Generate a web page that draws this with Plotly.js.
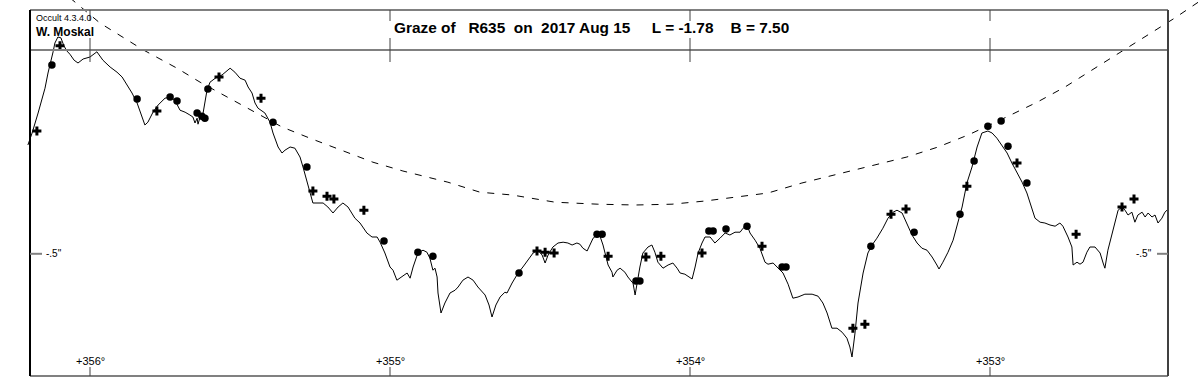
<!DOCTYPE html>
<html>
<head>
<meta charset="utf-8">
<script src="https://cdn.plot.ly/plotly-3.0.1.min.js"></script>
<style>html,body{margin:0;padding:0;background:#fff;}#chart{width:1198px;height:385px;}</style>
</head>
<body>
<div id="chart"></div>
<script>
// ---- Data (watts angle in degrees, height in arcsec) ----
const profileAngle = [356.207,356.193,356.173,356.157,356.150,356.140,356.133,356.123,356.117,356.107,356.097,356.087,356.077,356.067,356.053,356.040,356.023,356.000,355.977,355.957,355.933,355.910,355.893,355.877,355.860,355.843,355.827,355.817,355.807,355.790,355.773,355.750,355.733,355.717,355.700,355.683,355.667,355.657,355.650,355.643,355.640,355.633,355.623,355.610,355.600,355.577,355.560,355.533,355.517,355.500,355.483,355.473,355.460,355.450,355.440,355.417,355.400,355.390,355.373,355.360,355.350,355.333,355.317,355.300,355.290,355.277,355.267,355.257,355.240,355.223,355.207,355.190,355.173,355.157,355.140,355.127,355.117,355.100,355.077,355.060,355.043,355.033,355.017,355.000,354.990,354.977,354.960,354.943,354.933,354.923,354.907,354.890,354.877,354.867,354.857,354.850,354.843,354.840,354.830,354.817,354.800,354.783,354.773,354.757,354.740,354.723,354.707,354.683,354.670,354.660,354.647,354.633,354.617,354.610,354.593,354.583,354.573,354.557,354.540,354.523,354.507,354.493,354.483,354.473,354.457,354.440,354.423,354.407,354.393,354.377,354.367,354.357,354.343,354.333,354.323,354.310,354.300,354.290,354.283,354.273,354.260,354.257,354.243,354.233,354.217,354.207,354.193,354.190,354.183,354.177,354.167,354.157,354.140,354.127,354.117,354.107,354.090,354.073,354.057,354.043,354.033,354.017,354.000,353.993,353.983,353.973,353.960,353.950,353.933,353.917,353.900,353.883,353.867,353.850,353.833,353.823,353.810,353.800,353.783,353.767,353.750,353.740,353.723,353.707,353.690,353.673,353.657,353.640,353.617,353.593,353.573,353.557,353.543,353.527,353.510,353.493,353.477,353.467,353.460,353.450,353.440,353.423,353.407,353.393,353.377,353.357,353.340,353.323,353.310,353.293,353.277,353.260,353.243,353.227,353.210,353.193,353.177,353.170,353.157,353.140,353.123,353.107,353.093,353.077,353.060,353.043,353.027,353.007,352.993,352.977,352.960,352.943,352.927,352.910,352.893,352.877,352.860,352.850,352.833,352.817,352.800,352.783,352.767,352.757,352.740,352.727,352.723,352.710,352.700,352.690,352.677,352.667,352.650,352.633,352.623,352.617,352.607,352.593,352.583,352.573,352.560,352.550,352.540,352.527,352.517,352.507,352.493,352.483,352.473,352.460,352.450,352.440,352.427,352.417,352.410];
const profileHeight = [-0.228,-0.198,-0.148,-0.108,-0.086,-0.048,-0.028,0.005,0.027,0.042,0.040,0.020,0.007,-0.001,-0.016,-0.023,-0.013,-0.008,0.005,-0.016,-0.033,-0.046,-0.058,-0.078,-0.098,-0.123,-0.158,-0.178,-0.171,-0.146,-0.128,-0.111,-0.108,-0.116,-0.141,-0.146,-0.153,-0.158,-0.173,-0.161,-0.176,-0.158,-0.148,-0.091,-0.071,-0.058,-0.053,-0.036,-0.046,-0.061,-0.066,-0.083,-0.098,-0.123,-0.136,-0.148,-0.171,-0.198,-0.233,-0.248,-0.241,-0.233,-0.236,-0.258,-0.283,-0.316,-0.348,-0.373,-0.373,-0.373,-0.383,-0.398,-0.383,-0.373,-0.383,-0.398,-0.411,-0.423,-0.448,-0.458,-0.458,-0.471,-0.498,-0.533,-0.541,-0.566,-0.558,-0.548,-0.561,-0.533,-0.498,-0.491,-0.496,-0.511,-0.541,-0.536,-0.558,-0.598,-0.648,-0.623,-0.598,-0.591,-0.583,-0.566,-0.558,-0.566,-0.583,-0.603,-0.628,-0.658,-0.628,-0.608,-0.596,-0.598,-0.573,-0.561,-0.548,-0.533,-0.516,-0.498,-0.491,-0.503,-0.523,-0.503,-0.483,-0.473,-0.471,-0.473,-0.478,-0.473,-0.476,-0.486,-0.493,-0.478,-0.461,-0.453,-0.456,-0.478,-0.498,-0.528,-0.546,-0.558,-0.541,-0.536,-0.546,-0.558,-0.571,-0.573,-0.603,-0.573,-0.533,-0.498,-0.483,-0.478,-0.496,-0.521,-0.536,-0.528,-0.523,-0.536,-0.548,-0.551,-0.558,-0.563,-0.533,-0.498,-0.473,-0.458,-0.458,-0.473,-0.461,-0.448,-0.453,-0.446,-0.446,-0.436,-0.428,-0.448,-0.466,-0.486,-0.521,-0.526,-0.523,-0.536,-0.548,-0.576,-0.611,-0.608,-0.601,-0.601,-0.606,-0.623,-0.648,-0.686,-0.686,-0.696,-0.711,-0.733,-0.758,-0.698,-0.623,-0.548,-0.498,-0.478,-0.461,-0.436,-0.411,-0.396,-0.391,-0.398,-0.423,-0.453,-0.473,-0.486,-0.491,-0.508,-0.528,-0.538,-0.521,-0.496,-0.466,-0.423,-0.383,-0.323,-0.283,-0.233,-0.198,-0.193,-0.198,-0.211,-0.228,-0.248,-0.273,-0.296,-0.321,-0.348,-0.386,-0.411,-0.421,-0.423,-0.428,-0.431,-0.423,-0.431,-0.458,-0.483,-0.528,-0.521,-0.526,-0.521,-0.496,-0.483,-0.483,-0.498,-0.523,-0.536,-0.491,-0.448,-0.416,-0.391,-0.383,-0.391,-0.403,-0.396,-0.421,-0.403,-0.396,-0.408,-0.398,-0.408,-0.403,-0.423,-0.411,-0.396,-0.391];

const limitAngle = [356.067,355.967,355.823,355.710,355.633,355.493,355.360,355.260,355.160,355.057,354.957,354.807,354.700,354.593,354.450,354.307,354.183,354.060,353.950,353.840,353.740,353.627,353.490,353.377,353.277,353.173,353.073,352.967,352.843,352.750,352.660,352.567,352.473,352.383,352.300];
const limitHeight = [0.140,0.077,0.010,-0.036,-0.071,-0.128,-0.183,-0.213,-0.241,-0.271,-0.293,-0.321,-0.346,-0.353,-0.371,-0.376,-0.378,-0.376,-0.368,-0.358,-0.348,-0.323,-0.298,-0.278,-0.258,-0.233,-0.203,-0.166,-0.121,-0.083,-0.041,0.002,0.047,0.090,0.132];

const dotAngle = [356.127,355.843,355.733,355.710,355.643,355.627,355.617,355.607,355.390,355.277,355.020,354.907,354.857,354.570,354.310,354.293,354.180,354.167,353.937,353.923,353.880,353.810,353.693,353.680,353.397,353.253,353.100,353.053,353.007,352.963,352.940,352.877];
const dotHeight = [-0.028,-0.113,-0.108,-0.118,-0.148,-0.156,-0.161,-0.088,-0.171,-0.283,-0.468,-0.496,-0.506,-0.548,-0.451,-0.451,-0.568,-0.568,-0.443,-0.443,-0.438,-0.431,-0.533,-0.533,-0.481,-0.446,-0.401,-0.268,-0.181,-0.168,-0.231,-0.323];

const crossAngle = [356.177,356.100,355.777,355.570,355.430,355.257,355.210,355.187,355.087,354.510,354.483,354.453,354.273,354.147,354.097,353.960,353.760,353.457,353.417,353.330,353.280,353.077,352.910,352.713,352.560,352.520];
const crossHeight = [-0.193,0.020,-0.143,-0.058,-0.111,-0.343,-0.356,-0.363,-0.391,-0.493,-0.496,-0.498,-0.506,-0.508,-0.506,-0.498,-0.481,-0.686,-0.676,-0.401,-0.388,-0.331,-0.273,-0.451,-0.383,-0.363];

const xTickValues = [356, 355, 354, 353];
const xTickLabels = ['+356°', '+355°', '+354°', '+353°'];
const yTickValues = [-0.5];
const yTickLabels = ['-.5"'];

const titleText = 'Graze of\u00a0\u00a0\u00a0R635\u00a0\u00a0on\u00a0\u00a02017 Aug 15\u00a0\u00a0\u00a0\u00a0\u00a0L = -1.78\u00a0\u00a0\u00a0\u00a0B = 7.50';
const versionText = 'Occult 4.3.4.0';
const observerText = 'W. Moskal';

// ---- Layout helpers ----
const W = 1198, H = 385;
const X = p => p / W;
const Y = p => 1 - p / H;
const FONT = 'Arial, "Liberation Sans", sans-serif';

const traces = [
  {x: limitAngle, y: limitHeight, mode: 'lines', line: {color: '#000', width: 1, dash: '7px,8px'}, hoverinfo: 'skip'},
  {x: profileAngle, y: profileHeight, mode: 'lines', line: {color: '#000', width: 1}, hoverinfo: 'skip'},
  {x: dotAngle, y: dotHeight, mode: 'markers', marker: {symbol: 'circle', size: 7.5, color: '#000'}, hoverinfo: 'skip'},
  {x: crossAngle, y: crossHeight, mode: 'markers', marker: {symbol: 'cross', size: 7.5, color: '#000'}, hoverinfo: 'skip'}
];

const shapes = [];
const frameGray = '#808080';
// frame
shapes.push({type: 'line', xref: 'paper', yref: 'paper', x0: X(30), x1: X(1168), y0: Y(10), y1: Y(10), line: {color: frameGray, width: 2}});
shapes.push({type: 'line', xref: 'paper', yref: 'paper', x0: X(30), x1: X(1168), y0: Y(50), y1: Y(50), line: {color: frameGray, width: 2}});
shapes.push({type: 'line', xref: 'paper', yref: 'paper', x0: X(30), x1: X(1168), y0: Y(376), y1: Y(376), line: {color: frameGray, width: 2}});
shapes.push({type: 'line', xref: 'paper', yref: 'paper', x0: X(30), x1: X(30), y0: Y(10), y1: Y(376), line: {color: '#000', width: 2}});
shapes.push({type: 'line', xref: 'paper', yref: 'paper', x0: X(1168), x1: X(1168), y0: Y(10), y1: Y(376), line: {color: '#404040', width: 2}});

const annotations = [];
xTickValues.forEach((v, i) => {
  shapes.push({type: 'line', xref: 'x', yref: 'paper', x0: v, x1: v, y0: Y(10), y1: Y(21), line: {color: '#404040', width: 1}});
  shapes.push({type: 'line', xref: 'x', yref: 'paper', x0: v, x1: v, y0: Y(38), y1: Y(62), line: {color: '#404040', width: 1}});
  shapes.push({type: 'line', xref: 'x', yref: 'paper', x0: v, x1: v, y0: Y(367), y1: Y(376), line: {color: '#404040', width: 1}});
  annotations.push({xref: 'x', yref: 'paper', x: v, y: Y(361), text: xTickLabels[i], showarrow: false,
    xanchor: 'center', yanchor: 'middle', font: {family: FONT, size: 11, color: '#000'}});
});
yTickValues.forEach((v, i) => {
  shapes.push({type: 'line', xref: 'paper', yref: 'y', x0: X(30), x1: X(42), y0: v, y1: v, line: {color: frameGray, width: 2}});
  shapes.push({type: 'line', xref: 'paper', yref: 'y', x0: X(1157), x1: X(1168), y0: v, y1: v, line: {color: frameGray, width: 2}});
  annotations.push({xref: 'paper', yref: 'y', x: X(44), y: v, text: yTickLabels[i], showarrow: false,
    xanchor: 'left', yanchor: 'middle', font: {family: FONT, size: 10, color: '#000'}});
  annotations.push({xref: 'paper', yref: 'y', x: X(1154), y: v, text: yTickLabels[i], showarrow: false,
    xanchor: 'right', yanchor: 'middle', font: {family: FONT, size: 10, color: '#000'}});
});
annotations.push({xref: 'paper', yref: 'paper', x: X(591), y: Y(27), text: titleText, showarrow: false,
  xanchor: 'center', yanchor: 'middle', font: {family: FONT, size: 15.4, color: '#000', weight: 'bold'}});
annotations.push({xref: 'paper', yref: 'paper', x: X(34), y: Y(18), text: versionText, showarrow: false,
  xanchor: 'left', yanchor: 'middle', font: {family: FONT, size: 9, color: '#000'}});
annotations.push({xref: 'paper', yref: 'paper', x: X(34), y: Y(32), text: observerText, showarrow: false,
  xanchor: 'left', yanchor: 'middle', font: {family: FONT, size: 12, color: '#000', weight: 'bold'}});

const layout = {
  width: W, height: H,
  margin: {l: 0, r: 0, t: 0, b: 0, pad: 0},
  paper_bgcolor: '#fff', plot_bgcolor: '#fff',
  showlegend: false,
  xaxis: {range: [356.3, 356.3 - W / 300], visible: false, fixedrange: true},
  yaxis: {range: [(53.8 - H) / 400, 53.8 / 400], visible: false, fixedrange: true},
  shapes: shapes,
  annotations: annotations
};

Plotly.newPlot('chart', traces, layout, {staticPlot: true, displayModeBar: false});
</script>
</body>
</html>
